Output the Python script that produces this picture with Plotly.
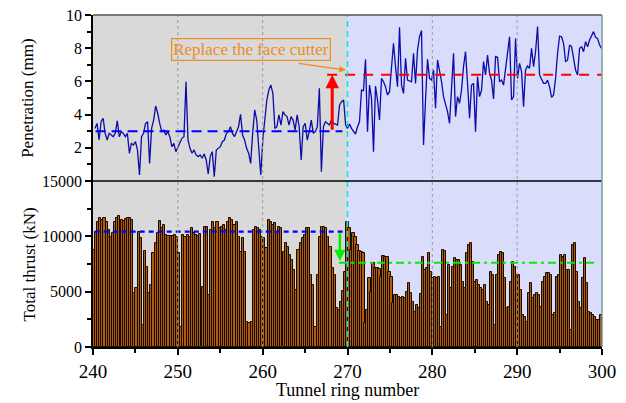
import numpy as np
import plotly.graph_objects as go

# ---------------- data ----------------
pen_before = [3.17,3.47,2.47,3.57,3.78,2.87,2.47,2.87,2.77,2.67,
              2.87,3.63,2.67,2.97,2.87,2.67,2.87,1.67,2.27,2.17,
              2.37,1.87,0.36,2.67,2.87,3.47,3.57,1.06,3.17,3.67,
              4.52,4.08,3.47,2.97,3.07,2.77,2.97,2.67,2.07,2.27,
              1.77,2.07,2.37,2.57,2.67,5.98,2.47,1.97,1.67,1.87,
              1.57,1.47,1.57,1.37,1.63,1.27,0.42,1.47,1.77,0.26,
              1.87,1.97,2.07,2.37,2.47,2.87,2.97,3.27,2.87,2.67,
              2.97,3.27,4.02,2.77,2.47,1.97,1.67,1.06,2.87,4.28,
              3.67,2.27,0.36,2.47,3.88,4.88,5.48,5.78,5.28,3.17,
              3.27,3.98,3.37,4.18,3.98,3.88,3.37,3.88,3.67,3.07,
              3.98,3.27,1.27,3.27,3.47,2.47,2.97,3.67,2.87,2.97,
              3.27,5.58,0.56,3.27,3.57,3.47,3.37,3.67,3.47,3.43,
              3.37,4.58,4.78,4.88,3.37]
pen_after = [3.17,3.43,3.17,2.97,2.83,3.27,3.57,5.48,5.44,7.33,
             2.97,5.78,4.98,1.77,5.72,4.88,3.67,6.18,5.98,5.68,
             5.18,5.38,6.89,8.29,6.89,5.68,9.26,5.78,5.28,7.39,
             6.08,6.04,5.98,7.69,5.88,7.89,8.69,9.06,2.17,4.88,
             7.33,6.18,6.08,6.69,4.38,7.29,6.69,5.98,5.08,4.68,
             4.18,3.47,5.48,7.69,3.88,5.08,4.68,5.48,6.89,7.79,
             5.88,3.78,5.78,5.88,2.97,6.29,5.08,5.48,7.19,6.39,
             7.59,6.49,6.08,4.94,7.49,7.45,5.98,6.08,5.78,6.79,
             7.69,8.69,4.88,5.08,8.59,6.18,7.09,6.59,4.48,6.69,
             6.93,6.79,7.99,6.89,7.79,9.30,6.39,6.18,5.88,5.88,
             6.08,5.68,5.04,5.18,6.18,7.69,8.73,8.69,8.29,7.19,
             7.29,8.19,8.09,7.39,6.69,6.39,7.99,8.09,7.79,8.39,
             8.09,8.49,8.80,9.00,8.65,8.59,8.19,7.99]

thrust_before = [8765,10422,11325,11687,11476,11626,11325,10572,9970,10271,
                 11325,11687,11867,11476,11385,11536,11626,11687,11476,4849,
                 5301,10422,9819,1988,8675,7259,4849,5602,8464,9367,
                 10271,11385,10723,11024,10120,10060,10060,10030,10120,9970,
                 8464,1837,10120,9970,10120,9970,10723,10271,10120,10060,
                 10181,5452,10873,10873,4699,10572,11325,10723,11325,10723,
                 10873,11024,10572,11325,11626,11476,11024,11325,9970,8614,
                 9819,8614,2289,2139,2289,10572,10873,10783,10572,9970,
                 9819,8916,11476,11325,11024,11175,10422,10873,10723,8614,
                 9367,9066,8313,7861,6958,5151,8765,9367,9819,10120,
                 10783,10723,6506,5602,1837,6506,9970,10873,10873,10723,
                 9970,9066,7108,6506,3494,3343,4096,5060,6807]
thrust_after = [11325,10723,8765,10271,9970,9217,8675,8554,8464,2139,
                3343,6205,5000,7560,7108,7108,7048,6355,8253,8163,
                8163,6807,6355,3946,4699,4699,4548,4398,4548,4398,
                4940,5753,4849,4096,3193,3795,3494,4759,8163,6958,
                7108,8464,6807,6205,6355,6205,6355,1837,8765,8675,
                2892,7410,5301,7259,8012,7861,7861,7410,5904,5301,
                8464,9217,9367,7711,5904,6054,5602,5301,5151,5602,
                4096,3795,6807,6506,1988,6506,8313,8614,8464,6205,
                3494,3645,5904,7711,7259,6506,6506,5151,2892,2741,
                2289,4849,5753,4398,4699,4849,4699,3645,5904,6355,
                6657,6657,6506,2892,3042,6355,6506,8313,8163,8313,
                6958,6958,1536,9217,9367,6807,4096,3494,6205,8012,
                5753,3193,3042,2892,2741,2440,2440,2892]

ring_start, ring_change, ring_end = 240, 270, 300
pen_mean_before, pen_mean_after = 3.0, 6.4
thrust_mean_before, thrust_mean_after = 10420, 7620
x_ticks = [240, 250, 260, 270, 280, 290, 300]
grid_rings = [250, 260, 280, 290]
pen_ticks = [2, 4, 6, 8, 10]
thrust_ticks = [0, 5000, 10000, 15000]

pen_x = np.concatenate([np.linspace(240.24, 269.78, len(pen_before)),
                        np.linspace(270.0, 299.95, len(pen_after))])
pen_y = pen_before + pen_after
thr_x = np.concatenate([np.linspace(240.1, 269.75, len(thrust_before)),
                        np.linspace(270.0, 299.9, len(thrust_after))])
thr_y = thrust_before + thrust_after

FONT = "Times New Roman, Liberation Serif, serif"

fig = go.Figure()

# thrust bars (bottom panel)
fig.add_trace(go.Bar(
    x=thr_x, y=thr_y, width=0.25, xaxis="x", yaxis="y",
    marker=dict(color="#b55a06", line=dict(color="#140d04", width=1.0)),
    showlegend=False))

# penetration line (top panel)
fig.add_trace(go.Scatter(
    x=pen_x, y=pen_y, mode="lines", xaxis="x2", yaxis="y2",
    line=dict(color="#0c0ca8", width=1.3), showlegend=False))

# mean lines
fig.add_trace(go.Scatter(x=[240.3, 269.4], y=[pen_mean_before]*2, mode="lines",
                         xaxis="x2", yaxis="y2", showlegend=False,
                         line=dict(color="#0000ff", width=2, dash="10px,6px")))
fig.add_trace(go.Scatter(x=[267.6, 300], y=[pen_mean_after]*2, mode="lines",
                         xaxis="x2", yaxis="y2", showlegend=False,
                         line=dict(color="#ff0000", width=2, dash="10px,8px")))
fig.add_trace(go.Scatter(x=[240.2, 269.6], y=[thrust_mean_before]*2, mode="lines",
                         xaxis="x", yaxis="y", showlegend=False,
                         line=dict(color="#0000ff", width=2.2, dash="5px,4px")))
fig.add_trace(go.Scatter(x=[269.0, 299.5], y=[thrust_mean_after]*2, mode="lines",
                         xaxis="x", yaxis="y", showlegend=False,
                         line=dict(color="#00ee00", width=2, dash="8px,4px,3px,4px")))

shapes = [
    dict(type="rect", xref="x", yref="paper", x0=ring_start, x1=ring_change, y0=0, y1=1,
         fillcolor="#d9d9d9", line=dict(width=0), layer="below"),
    dict(type="rect", xref="x", yref="paper", x0=ring_change, x1=ring_end, y0=0, y1=1,
         fillcolor="#d9ddfb", line=dict(width=0), layer="below"),
]
for g in grid_rings:
    shapes.append(dict(type="line", xref="x", yref="paper", x0=g, x1=g, y0=0, y1=1,
                       line=dict(color="#9a9a9a", width=1, dash="dot"), layer="above"))
shapes += [
    dict(type="line", xref="x", yref="paper", x0=ring_change, x1=ring_change, y0=0, y1=1,
         line=dict(color="#00e5ee", width=1.5, dash="6px,4px")),
    dict(type="line", xref="paper", yref="paper", x0=0, x1=1, y0=0.5, y1=0.5,
         line=dict(color="#000000", width=1.5)),
    dict(type="line", xref="paper", yref="paper", x0=0, x1=1, y0=1, y1=1,
         line=dict(color="#555555", width=1.5)),
    dict(type="line", xref="paper", yref="paper", x0=1, x1=1, y0=0, y1=1,
         line=dict(color="#7d9c9c", width=1.5)),
]

annotations = [
    # red arrow (penetration increase)
    dict(x=268.2, y=pen_mean_after, ax=268.2, ay=pen_mean_before, xref="x2", yref="y2",
         axref="x2", ayref="y2", text="", showarrow=True, arrowhead=2, arrowsize=0.9,
         arrowwidth=3, arrowcolor="#ff0000"),
    # green arrow (thrust decrease)
    dict(x=269.1, y=thrust_mean_after + 150, ax=269.1, ay=thrust_mean_before, xref="x", yref="y",
         axref="x", ayref="y", text="", showarrow=True, arrowhead=2, arrowsize=0.9,
         arrowwidth=2.5, arrowcolor="#00ee00"),
    # label box
    dict(x=258.6, y=7.95, xref="x2", yref="y2", text="Replace the face cutter",
         xanchor="center", yanchor="middle",
         showarrow=False, font=dict(family=FONT, size=17, color="#f28a1c"),
         bordercolor="#f28a1c", borderwidth=1.2, borderpad=1),
    # orange arrow
    dict(x=269.8, y=6.68, ax=264.1, ay=7.1, xref="x2", yref="y2", axref="x2", ayref="y2",
         text="", showarrow=True, arrowhead=2, arrowsize=1, arrowwidth=1.3,
         arrowcolor="#f28a1c"),
    # y axis titles
    dict(x=-0.13, y=0.75, xref="paper", yref="paper", text="Penetration (mm)", textangle=-90,
         xanchor="center", yanchor="middle",
         showarrow=False, font=dict(family=FONT, size=17, color="#000")),
    dict(x=-0.125, y=0.25, xref="paper", yref="paper", text="Total thrust (kN)", textangle=-90,
         xanchor="center", yanchor="middle",
         showarrow=False, font=dict(family=FONT, size=17, color="#000")),
    # x axis title
    dict(x=0.5, y=-0.13, xref="paper", yref="paper", text="Tunnel ring number",
         xanchor="center", yanchor="middle",
         showarrow=False, font=dict(family=FONT, size=18, color="#000")),
]

axis_common = dict(showgrid=False, zeroline=False, linecolor="#000", linewidth=1.5,
                   ticks="outside", tickwidth=1.5, tickcolor="#000", tickformat="d",
                   automargin=False, tickfont=dict(family=FONT, color="#000"))

fig.update_layout(
    width=626, height=403, margin=dict(l=93, r=24, t=15, b=56),
    paper_bgcolor="white", plot_bgcolor="white", bargap=0,
    font=dict(family=FONT, color="#000"),
    shapes=shapes, annotations=annotations,
    xaxis=dict(**axis_common, domain=[0, 1], anchor="y", range=[ring_start, ring_end],
               tickvals=x_ticks, ticklen=6, showline=True,
               minor=dict(dtick=5, tick0=240, ticklen=4, tickwidth=1.5, ticks="outside", tickcolor="#000")),
    yaxis=dict(**axis_common, domain=[0, 0.5], anchor="x", range=[0, 15000],
               tickvals=thrust_ticks, ticklen=6, showline=True,
               minor=dict(dtick=2500, ticklen=4, tickwidth=1.5, ticks="outside", tickcolor="#000")),
    xaxis2=dict(domain=[0, 1], anchor="y2", matches="x", range=[ring_start, ring_end],
                showticklabels=False, ticks="", showline=False, showgrid=False, zeroline=False),
    yaxis2=dict(**axis_common, domain=[0.5, 1], anchor="x2", range=[0, 10],
                tickvals=pen_ticks, ticklen=6, showline=True,
                minor=dict(dtick=1, tick0=0, ticklen=4, tickwidth=1.5, ticks="outside", tickcolor="#000")),
)
fig.update_xaxes(tickfont_size=19, selector=dict(anchor="y"))
fig.update_yaxes(tickfont_size=16)

fig.write_html("out.html")
